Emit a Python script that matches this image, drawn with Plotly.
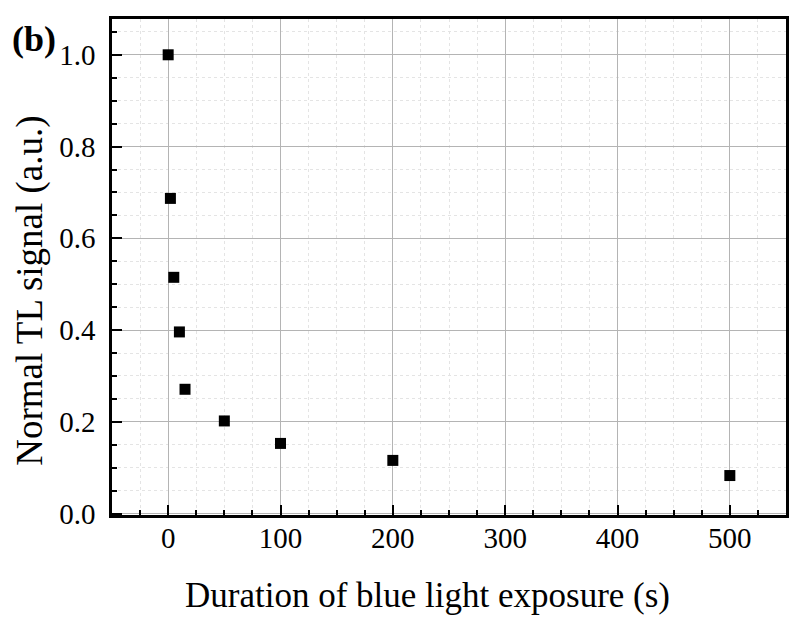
import plotly.graph_objects as go

duration_s = [0, 2, 5, 10, 15, 50, 100, 200, 500]
normal_tl = [1.0, 0.687, 0.515, 0.396, 0.271, 0.202, 0.153, 0.116, 0.083]

x_ticks = [0, 100, 200, 300, 400, 500]
y_ticks = [0.0, 0.2, 0.4, 0.6, 0.8, 1.0]
y_tick_labels = ["0.0", "0.2", "0.4", "0.6", "0.8", "1.0"]

x_title = "Duration of blue light exposure (s)"
y_title = "Normal TL signal (a.u.)"
panel_label = "(b)"

FONT = "Liberation Serif"

fig = go.Figure()
fig.add_trace(go.Scatter(
    x=duration_s, y=normal_tl, mode="markers",
    marker=dict(symbol="square", size=11, color="black", line=dict(width=0)),
    showlegend=False,
))

axis_common = dict(
    showline=True, linecolor="black", linewidth=2.5, mirror=True,
    ticks="inside", ticklen=10, tickwidth=2, tickcolor="black",
    showgrid=True, gridcolor="#b4b4b4", gridwidth=1,
    zeroline=False,
    tickfont=dict(family=FONT, size=29, color="black"),
)

fig.update_xaxes(
    range=[-50, 550], tickvals=x_ticks,
    minor=dict(dtick=25, ticks="inside", ticklen=5, tickwidth=2, tickcolor="black",
               showgrid=True, gridcolor="#e4e4e4", griddash="dot", gridwidth=1),
    ticklabelstandoff=-5,
    **axis_common,
)
fig.update_yaxes(
    range=[-0.003, 1.078], tickvals=y_ticks, ticktext=y_tick_labels,
    minor=dict(dtick=0.05, tick0=0, ticks="inside", ticklen=5, tickwidth=2, tickcolor="black",
               showgrid=True, gridcolor="#e4e4e4", griddash="dot", gridwidth=1),
    ticklabelstandoff=8,
    **axis_common,
)

fig.add_annotation(
    text=x_title, xref="paper", yref="paper", x=0.468, y=-0.163,
    xanchor="center", yanchor="middle", showarrow=False,
    font=dict(family=FONT, size=35, color="black"),
)
fig.add_annotation(
    text=y_title, xref="paper", yref="paper", x=-0.122, y=0.4516,
    xanchor="center", yanchor="middle", showarrow=False, textangle=-90,
    font=dict(family=FONT, size=37, color="black"),
)
fig.add_annotation(
    text="<b>" + panel_label + "</b>", xref="paper", yref="paper", x=-0.152, y=1.005,
    xanchor="left", yanchor="top", showarrow=False,
    font=dict(family=FONT, size=36, color="black"),
)

fig.update_layout(
    width=806, height=630,
    margin=dict(l=112, r=20, t=19, b=115),
    plot_bgcolor="white", paper_bgcolor="white",
)

fig.write_html("out.html")
